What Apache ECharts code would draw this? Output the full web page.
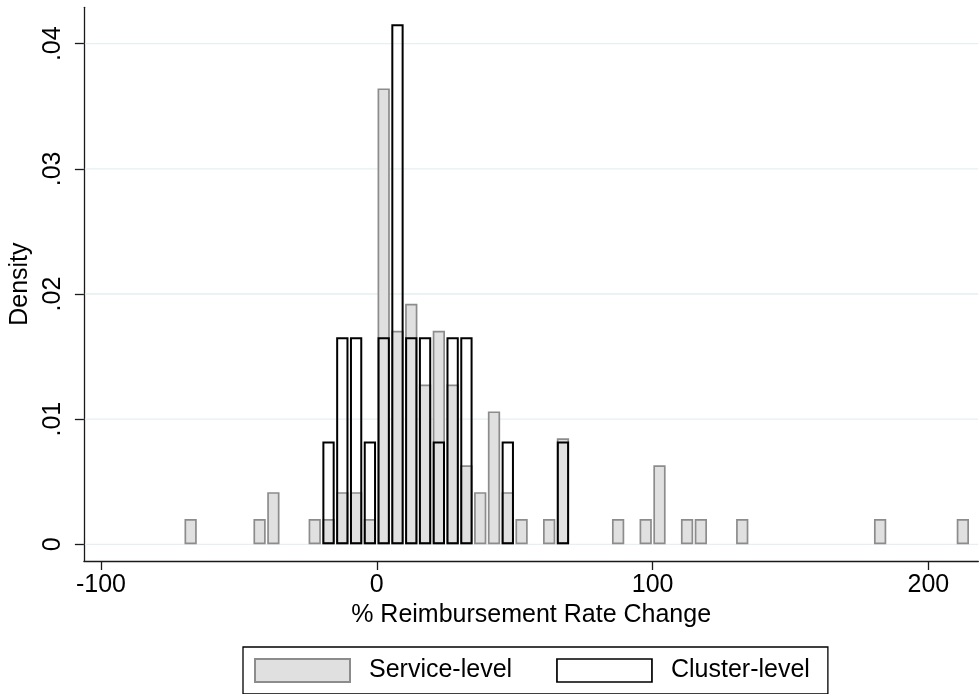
<!DOCTYPE html>
<html>
<head>
<meta charset="utf-8">
<script src="https://cdn.jsdelivr.net/npm/echarts@6/dist/echarts.min.js"></script>
<style>
html,body{margin:0;padding:0;background:#fff;}
#chart{width:979px;height:694px;}
</style>
</head>
<body>
<div id="chart"></div>
<script>
// ---- data (bin width 5, bin centers) ----
const serviceCenters = [-67.5, -42.5, -37.5, -22.5, -17.5, -12.5, -7.5, -2.5, 2.5, 7.5, 12.5, 17.5, 22.5, 27.5, 32.5, 37.5, 42.5, 47.5, 52.5, 62.5, 67.5, 87.5, 97.5, 102.5, 112.5, 117.5, 132.5, 182.5, 212.5];
const serviceDensity = [0.00215, 0.00215, 0.0043, 0.00215, 0.00215, 0.0043, 0.0043, 0.00215, 0.03656, 0.0172, 0.01935, 0.0129, 0.0172, 0.0129, 0.00645, 0.0043, 0.01075, 0.0043, 0.00215, 0.00215, 0.0086, 0.00215, 0.00215, 0.00645, 0.00215, 0.00215, 0.00215, 0.00215, 0.00215];
const clusterCenters = [-17.5, -12.5, -7.5, -2.5, 2.5, 7.5, 12.5, 17.5, 22.5, 27.5, 32.5, 47.5, 67.5];
const clusterDensity = [0.00833, 0.01667, 0.01667, 0.00833, 0.01667, 0.04167, 0.01667, 0.01667, 0.00833, 0.01667, 0.01667, 0.00833, 0.00833];
const xTicks = [-100, 0, 100, 200];
const yTicks = [0, 0.01, 0.02, 0.03, 0.04];
const yTickLabels = ['0', '.01', '.02', '.03', '.04'];
const seriesNames = ['Service-level', 'Cluster-level'];
const xTitle = '% Reimbursement Rate Change';
const yTitle = 'Density';

const FONT = "'Liberation Sans', Arial, sans-serif";
const X_MIN = -106.2, X_MAX = 218.1;
const Y_MIN = -0.001334, Y_MAX = 0.04291;
const TOP_INSET = 2.5;

function barRenderer(halfPx, fill, stroke, lw) {
  return function (params, api) {
    const c = api.value(0), v = api.value(1);
    const p0 = api.coord([c, 0]);
    const p1 = api.coord([c, v]);
    const top = p1[1] + TOP_INSET;
    const bottom = p0[1] - lw / 2;
    return {
      type: 'rect',
      shape: { x: p0[0] - halfPx, y: top, width: 2 * halfPx, height: bottom - top },
      style: { fill: fill, stroke: stroke, lineWidth: lw }
    };
  };
}

const chart = echarts.init(document.getElementById('chart'), null, { renderer: 'canvas' });
chart.setOption({
  animation: false,
  backgroundColor: '#ffffff',
  textStyle: { fontFamily: FONT },
  grid: { left: 83.3, right: 0.7, top: 7.3, bottom: 133, containLabel: false },
  xAxis: {
    type: 'value',
    min: X_MIN, max: X_MAX,
    name: xTitle,
    nameLocation: 'middle',
    nameGap: 38,
    nameTextStyle: { fontFamily: FONT, fontSize: 25, color: '#000' },
    axisLine: { show: true, onZero: false, lineStyle: { color: '#1a1a1a', width: 1.3 } },
    axisTick: { show: true, length: 9, customValues: xTicks, lineStyle: { color: '#1a1a1a', width: 1.3 } },
    axisLabel: { customValues: xTicks, margin: 12, fontFamily: FONT, fontSize: 25, color: '#000' },
    splitLine: { show: false }
  },
  yAxis: {
    type: 'value',
    min: Y_MIN, max: Y_MAX,
    name: yTitle,
    nameLocation: 'middle',
    nameRotate: 90,
    nameGap: 48,
    nameTextStyle: { fontFamily: FONT, fontSize: 25, color: '#000' },
    axisLine: { show: true, onZero: false, lineStyle: { color: '#1a1a1a', width: 1.3 } },
    axisTick: { show: true, length: 9, customValues: yTicks, lineStyle: { color: '#1a1a1a', width: 1.3 } },
    axisLabel: {
      customValues: yTicks,
      rotate: 90,
      margin: 18,
      fontFamily: FONT, fontSize: 25, color: '#000',
      formatter: function (val) {
        const i = yTicks.findIndex(t => Math.abs(t - val) < 1e-9);
        return i >= 0 ? yTickLabels[i] : '';
      }
    },
    splitLine: { show: false }
  },
  legend: {
    left: 243, top: 647,
    orient: 'horizontal',
    padding: [11, 18, 11, 11],
    borderColor: '#000', borderWidth: 1.3, borderRadius: 0,
    backgroundColor: '#fff',
    itemWidth: 95, itemHeight: 23,
    itemGap: 44,
    selectedMode: false,
    textStyle: { fontFamily: FONT, fontSize: 25, color: '#000', padding: [0, 0, 0, 14] },
    data: [
      { name: seriesNames[0], icon: 'rect', itemStyle: { color: '#e0e0e0', borderColor: '#8c8c8c', borderWidth: 2 } },
      { name: seriesNames[1], icon: 'rect', itemStyle: { color: '#ffffff', borderColor: '#000000', borderWidth: 1.7 } }
    ]
  },
  series: [
    {
      name: 'grid',
      type: 'custom',
      z: 1,
      silent: true,
      data: yTicks.map(v => [0, v]),
      encode: { x: 0, y: 1 },
      renderItem: function (params, api) {
        const cs = params.coordSys;
        const y = api.coord([0, api.value(1)])[1];
        return {
          type: 'line',
          shape: { x1: cs.x + 1, y1: y, x2: cs.x + cs.width, y2: y },
          style: { stroke: '#e6eff2', lineWidth: 1.3 }
        };
      }
    },
    {
      name: seriesNames[0],
      type: 'custom',
      z: 2,
      data: serviceCenters.map((c, i) => [c, serviceDensity[i]]),
      encode: { x: 0, y: 1 },
      renderItem: barRenderer(5.3, '#e0e0e0', '#8c8c8c', 1.7)
    },
    {
      name: seriesNames[1],
      type: 'custom',
      z: 3,
      data: clusterCenters.map((c, i) => [c, clusterDensity[i]]),
      encode: { x: 0, y: 1 },
      renderItem: barRenderer(5.15, 'rgba(0,0,0,0)', '#000000', 2)
    }
  ]
});
</script>
</body>
</html>
